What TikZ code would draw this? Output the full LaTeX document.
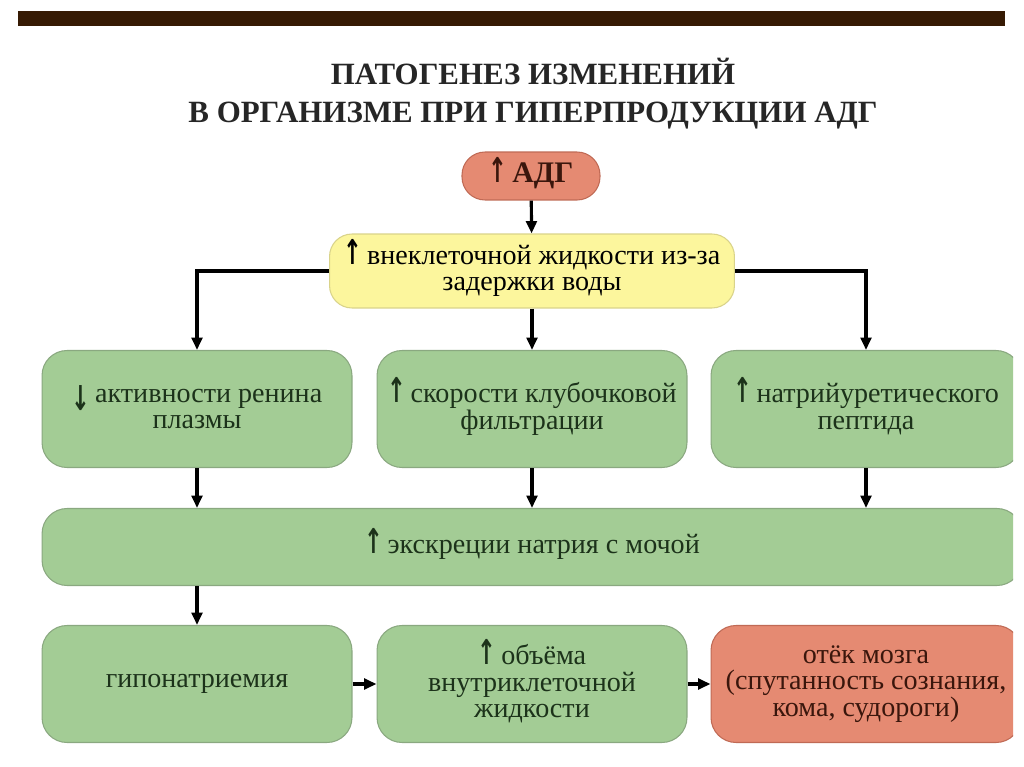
\documentclass[tikz,border=0pt]{standalone}
\usepackage{fontspec}
\setmainfont{Liberation Serif}
\newfontfamily\arrowfont{DejaVu Sans}
\usepackage{tikz}
\usetikzlibrary{arrows.meta}
\usetikzlibrary{positioning}
\definecolor{barbrown}{HTML}{361A04}
\definecolor{boxgreen}{HTML}{A3CC95}
\definecolor{edgegreen}{HTML}{8AA880}
\definecolor{boxred}{HTML}{E58A72}
\definecolor{edgered}{HTML}{C06A55}
\definecolor{boxyellow}{HTML}{FCF69D}
\definecolor{edgeyellow}{HTML}{D9D38A}
\definecolor{txtgreen}{HTML}{1C321A}
\definecolor{txtred}{HTML}{3A160C}
\tikzset{box/.style = {draw, line width=0.6pt, align=center, inner sep=2pt,
                       font=\fontsize{16}{15}\selectfont}}
\tikzset{greenbox/.style = {box, fill=boxgreen, draw=edgegreen, text=txtgreen,
                            minimum width=6.2cm, minimum height=2.34cm,
                            rounded corners=0.5cm}}
\tikzset{redbox/.style = {box, fill=boxred, draw=edgered, text=txtred,
                          minimum width=6.2cm, minimum height=2.34cm,
                          rounded corners=0.5cm}}
\tikzset{yellowbox/.style = {box, fill=boxyellow, draw=edgeyellow, text=black,
                             minimum width=8.1cm, minimum height=1.48cm,
                             rounded corners=0.45cm}}
\tikzset{arr/.style = {line width=1.8pt, -{Triangle[width=6pt, length=7pt]}}}
\newcommand{\up}{\smash{\scalebox{0.85}[1.3]{\arrowfont\bfseries\fontsize{15}{15}\selectfont ↑}}\,}
\newcommand{\down}{\smash{\raisebox{-0.6ex}{\scalebox{0.85}[1.3]{\arrowfont\bfseries\fontsize{15}{15}\selectfont ↓}}}\,}

\begin{document}
\begin{tikzpicture}[x=0.02cm, y=-0.02cm]
    \useasboundingbox [fill=white] (0, 0) rectangle (1024, 767);
    \fill [barbrown] (18, 11) rectangle (1005, 26);
    \node [font=\fontsize{17.6}{21.5}\selectfont\bfseries, text=black!85, align=center]
        (title) at (533, 94) {ПАТОГЕНЕЗ ИЗМЕНЕНИЙ\\В ОРГАНИЗМЕ ПРИ ГИПЕРПРОДУКЦИИ АДГ};
    \begin{scope}
    \clip (0, 0) rectangle (1013, 767);
    \node [box, fill=boxred, draw=edgered, text=txtred, minimum width=2.76cm,
           minimum height=0.96cm, rounded corners=0.46cm, font=\fontsize{17}{16}\selectfont\bfseries]
        (adg) at (531, 176) {\up АДГ};
    \node [yellowbox] (vnekl) at (532, 271) {\up внеклеточной жидкости из-за\\задержки воды};
    \node [greenbox] (renin) at (197, 409) {\down активности ренина\\плазмы};
    \node [greenbox] (skf) at (532, 409) {\up скорости клубочковой\\фильтрации};
    \node [greenbox] (nup) at (866, 409) {\up натрийуретического\\пептида};
    \node [greenbox, minimum width=19.6cm, minimum height=1.54cm] (ekskr) at (532, 547)
        {\up экскреции натрия с мочой};
    \node [greenbox] (gipo) at (197, 684) {гипонатриемия};
    \node [greenbox] (obem) at (532, 684) {\up объёма\\внутриклеточной\\жидкости};
    \node [redbox] (otek) at (866, 684) {отёк мозга\\(спутанность сознания,\\кома, судороги)};
    \end{scope}
    % connectors
    \draw [arr] (adg) -- (vnekl);
    \draw [arr] (vnekl.west) -| (renin.north);
    \draw [arr] (vnekl) -- (skf);
    \draw [arr] (vnekl.east) -| (nup.north);
    \draw [arr] (renin.south) -- (renin.south |- ekskr.north);
    \draw [arr] (skf.south) -- (skf.south |- ekskr.north);
    \draw [arr] (nup.south) -- (nup.south |- ekskr.north);
    \draw [arr] (gipo.north |- ekskr.south) -- (gipo.north);
    \draw [arr] (gipo) -- (obem);
    \draw [arr] (obem) -- (otek);
  \end{tikzpicture}
\end{document}
